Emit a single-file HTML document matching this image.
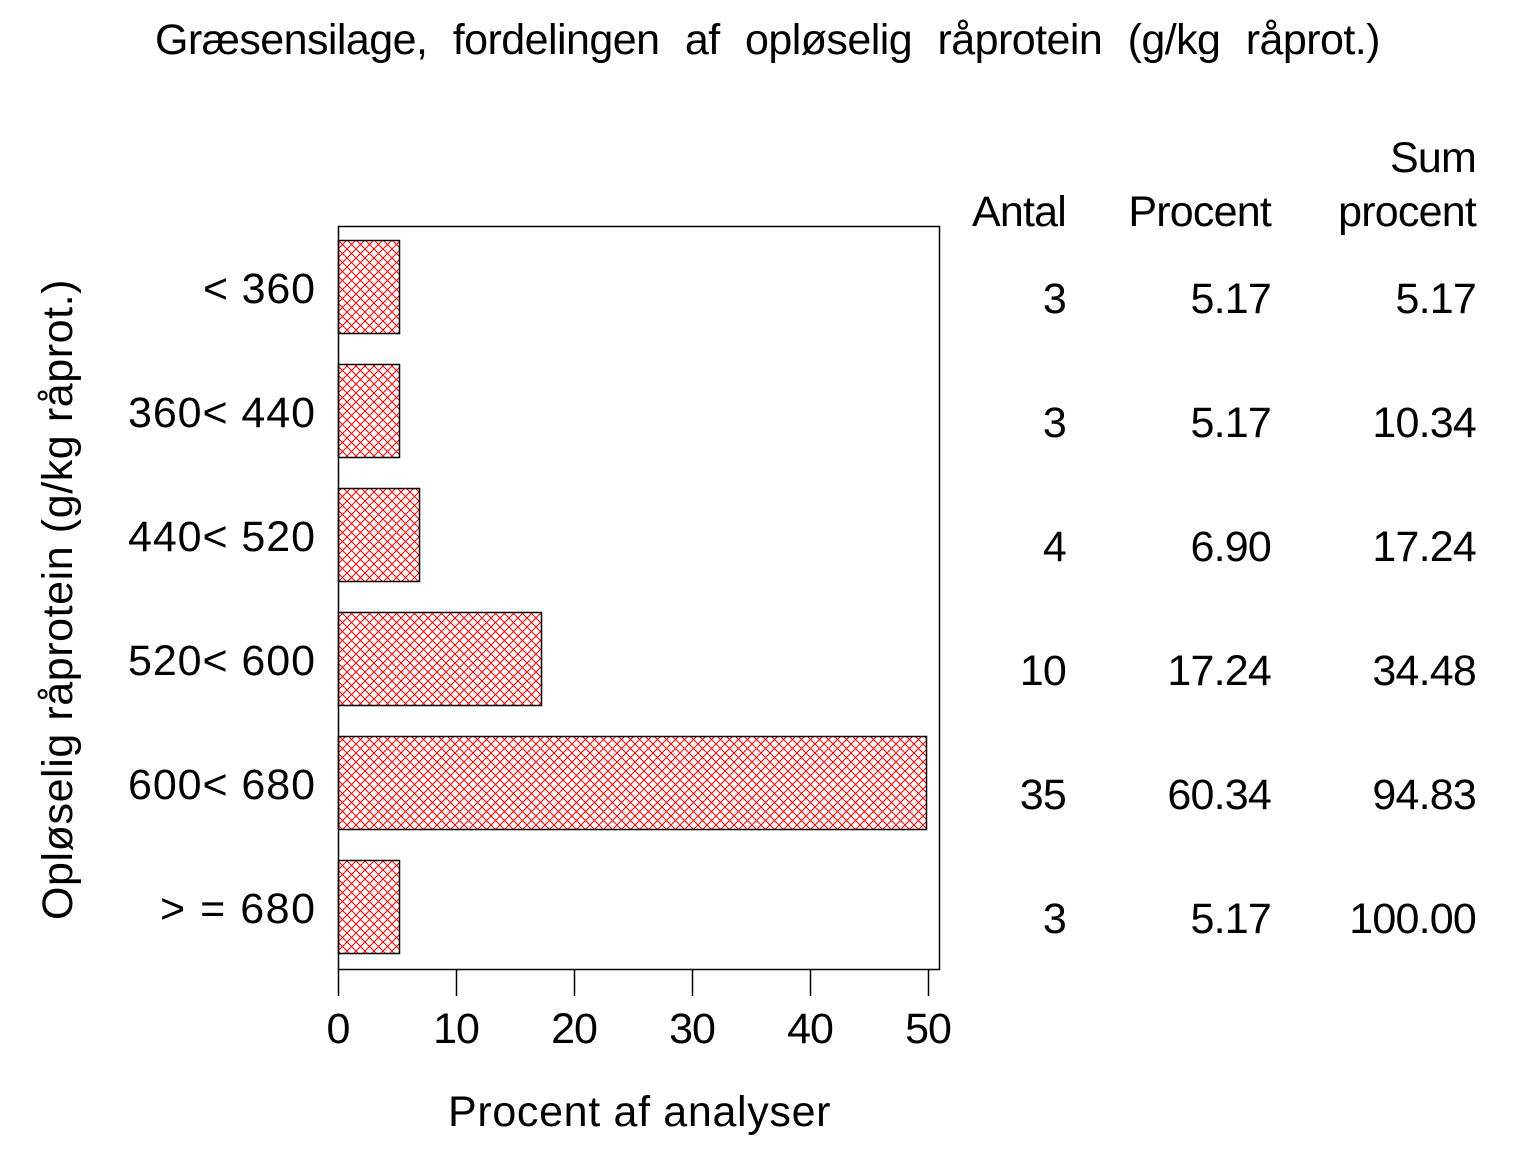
<!DOCTYPE html>
<html><head><meta charset="utf-8"><style>
html,body{margin:0;padding:0;background:#fff;}
svg{display:block;}
text{font-family:"Liberation Sans",Arial,sans-serif;fill:#000;}
</style></head><body>
<svg width="1536" height="1152" viewBox="0 0 1536 1152" xmlns="http://www.w3.org/2000/svg">
<defs>
<pattern id="h" patternUnits="userSpaceOnUse" width="9" height="9" x="338" y="240">
<path d="M0,0 L9,9 M9,0 L0,9" stroke="#ff0000" stroke-width="1" fill="none"/>
</pattern>
</defs>
<text x="155" y="54" font-size="43" letter-spacing="-0.5" word-spacing="14" textLength="1225" lengthAdjust="spacing">Græsensilage, fordelingen af opløselig råprotein (g/kg råprot.)</text>

<rect x="338.5" y="226.5" width="601" height="743" fill="none" stroke="#000" stroke-width="1.5"/>
<g stroke="#000" stroke-width="1.5">
<line x1="338.5" y1="969" x2="338.5" y2="996"/>
<line x1="456.5" y1="969" x2="456.5" y2="996"/>
<line x1="574.5" y1="969" x2="574.5" y2="996"/>
<line x1="692.5" y1="969" x2="692.5" y2="996"/>
<line x1="810.5" y1="969" x2="810.5" y2="996"/>
<line x1="928.5" y1="969" x2="928.5" y2="996"/>
</g>
<g font-size="43" text-anchor="middle" letter-spacing="-1">
<text x="338" y="1043">0</text><text x="456" y="1043">10</text><text x="574" y="1043">20</text>
<text x="692" y="1043">30</text><text x="810" y="1043">40</text><text x="928" y="1043">50</text>
</g>
<text x="448" y="1126" font-size="43" letter-spacing="-0.5" textLength="382" lengthAdjust="spacing">Procent  af  analyser</text>
<text transform="translate(72,920) rotate(-90)" font-size="43" letter-spacing="-0.5" textLength="640" lengthAdjust="spacing">Opløselig  råprotein  (g/kg  råprot.)</text>

<g fill="url(#h)" stroke="#000" stroke-width="1.5">
<rect x="338.5" y="240.5" width="61" height="93"/>
<rect x="338.5" y="364.5" width="61" height="93"/>
<rect x="338.5" y="488.5" width="81" height="93"/>
<rect x="338.5" y="612.5" width="203" height="93"/>
<rect x="338.5" y="736.5" width="588" height="93"/>
<rect x="338.5" y="860.5" width="61" height="93"/>
</g>

<g font-size="43" letter-spacing="-1">
<text x="203" y="303" textLength="111" lengthAdjust="spacing">&lt; 360</text>
<text x="128" y="427" textLength="186" lengthAdjust="spacing">360&lt; 440</text>
<text x="128" y="551" textLength="186" lengthAdjust="spacing">440&lt; 520</text>
<text x="128" y="675" textLength="186" lengthAdjust="spacing">520&lt; 600</text>
<text x="128" y="799" textLength="186" lengthAdjust="spacing">600&lt; 680</text>
<text x="160" y="923" textLength="154" lengthAdjust="spacing">&gt; = 680</text>
</g>

<g font-size="43" text-anchor="end" letter-spacing="-0.8">
<text x="1476" y="172">Sum</text>
<text x="1066" y="226">Antal</text><text x="1271" y="226">Procent</text><text x="1476" y="226">procent</text>
<text x="1066" y="313">3</text><text x="1271" y="313">5.17</text><text x="1476" y="313">5.17</text>
<text x="1066" y="437">3</text><text x="1271" y="437">5.17</text><text x="1476" y="437">10.34</text>
<text x="1066" y="561">4</text><text x="1271" y="561">6.90</text><text x="1476" y="561">17.24</text>
<text x="1066" y="685">10</text><text x="1271" y="685">17.24</text><text x="1476" y="685">34.48</text>
<text x="1066" y="809">35</text><text x="1271" y="809">60.34</text><text x="1476" y="809">94.83</text>
<text x="1066" y="933">3</text><text x="1271" y="933">5.17</text><text x="1476" y="933">100.00</text>
</g>
</svg>
</body></html>
